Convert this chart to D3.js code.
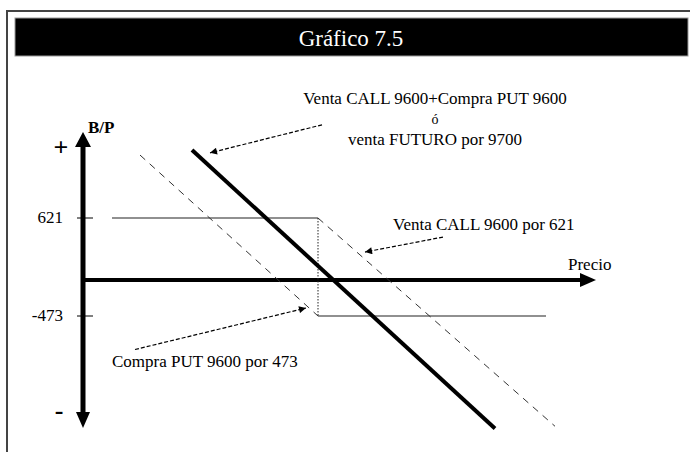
<!DOCTYPE html>
<html>
<head>
<meta charset="utf-8">
<script src="https://cdn.jsdelivr.net/npm/d3@7"></script>
<style>
  body { margin: 0; background: #fff; }
  svg { display: block; font-family: "Liberation Serif", "DejaVu Serif", serif; }
</style>
</head>
<body>
<div id="chart"></div>
<script>
// valores del gráfico (precio, B/P)
const strike = 9600
const yTicks = [621, -473]
const yTickLabels = ["621", "-473"]
const callFlat = [[7540, 621], [9600, 621]]
const callDash = [[9600, 621], [11970, -1900]]
const putDash = [[7820, 1250], [9600, -473]]
const putFlat = [[9600, -473], [11880, -473]]
const futureLine = [[8340, 1300], [11370, -1930]]
const strikeDots = [[9600, 621], [9600, -473]]

// textos
const title = "Gráfico 7.5"
const futureLabel = ["Venta CALL 9600+Compra PUT 9600", "ó", "venta FUTURO por 9700"]
const callLabel = "Venta CALL 9600 por 621"
const putLabel = "Compra PUT 9600 por 473"
const yLabel = "B/P"
const xLabel = "Precio"

// flechas de las notas, en unidades del gráfico [desde, hasta]
const futureArrow = [[9640, 1552], [8520, 1272]]
const callArrow = [[10850, 430], [10070, 280]]
const putArrow = [[7770, -907], [9480, -368]]

const width = 690, height = 452

const x = d3.scaleLinear().domain([7250, 12370]).range([83, 595])
// escala esquemática: el eje no es proporcional a cada lado del cero
const y = d3.scaleLinear().domain([-2000, -473, 0, 621, 2000]).range([434, 316, 280, 218, 80])

const svg = d3.select("#chart").append("svg")
  .attr("width", width)
  .attr("height", height)
  .attr("viewBox", [0, 0, width, height])

const defs = svg.append("defs")
defs.append("marker")
  .attr("id", "head")
  .attr("viewBox", "0 0 10 10")
  .attr("refX", 10).attr("refY", 5)
  .attr("markerWidth", 10).attr("markerHeight", 7)
  .attr("markerUnits", "userSpaceOnUse")
  .attr("orient", "auto")
  .append("path").attr("d", "M0,0L10,5L0,10Z").attr("fill", "#000")

// marco y barra del título
svg.append("rect")
  .attr("x", 7).attr("y", 11)
  .attr("width", 700).attr("height", 460)
  .attr("fill", "#fff").attr("stroke", "#444").attr("stroke-width", 2)
svg.append("rect")
  .attr("x", 15).attr("y", 18)
  .attr("width", 673).attr("height", 38)
  .attr("fill", "#000").attr("stroke", "#999").attr("stroke-width", 1)
svg.append("text")
  .attr("x", 351).attr("y", 46)
  .attr("text-anchor", "middle")
  .attr("fill", "#fff")
  .attr("font-size", 23)
  .text(title)

const line = d3.line().x(d => x(d[0])).y(d => y(d[1]))

// ejes
const x0 = x(7250), y0 = y(0)
svg.append("line")
  .attr("x1", x0).attr("x2", x0)
  .attr("y1", 146).attr("y2", 413)
  .attr("stroke", "#000").attr("stroke-width", 5)
svg.append("path")
  .attr("d", `M${x0},132L${x0 - 8},147L${x0 + 8},147Z`)
svg.append("path")
  .attr("d", `M${x0},428L${x0 - 7},412L${x0 + 7},412Z`)
svg.append("line")
  .attr("x1", x0).attr("x2", 582)
  .attr("y1", y0).attr("y2", y0)
  .attr("stroke", "#000").attr("stroke-width", 4)
svg.append("path")
  .attr("d", `M596,${y0}L580,${y0 - 7}L580,${y0 + 7}Z`)

svg.selectAll(".ytick")
  .data(yTicks)
  .join("line")
  .attr("class", "ytick")
  .attr("x1", x0 - 6).attr("x2", x0 + 10)
  .attr("y1", d => y(d)).attr("y2", d => y(d))
  .attr("stroke", "#000").attr("stroke-width", 1)
svg.selectAll(".ylab")
  .data(yTicks)
  .join("text")
  .attr("class", "ylab")
  .attr("x", 63)
  .attr("y", d => y(d) + 5)
  .attr("text-anchor", "end")
  .attr("font-size", 17)
  .text((d, i) => yTickLabels[i])

svg.append("text").attr("x", 88).attr("y", 133)
  .attr("font-size", 17).attr("font-weight", "bold").text(yLabel)
svg.append("text").attr("x", 61).attr("y", 156)
  .attr("text-anchor", "middle")
  .attr("font-size", 26).attr("font-weight", "bold").text("+")
svg.append("text").attr("x", 59).attr("y", 419)
  .attr("text-anchor", "middle")
  .attr("font-size", 26).attr("font-weight", "bold").text("-")
svg.append("text").attr("x", 568).attr("y", 270)
  .attr("font-size", 17).text(xLabel)

// resultados
svg.append("path").attr("d", line(callFlat))
  .attr("fill", "none").attr("stroke", "#222").attr("stroke-width", 1.2)
svg.append("path").attr("d", line(putFlat))
  .attr("fill", "none").attr("stroke", "#222").attr("stroke-width", 1.2)
svg.append("path").attr("d", line(strikeDots))
  .attr("fill", "none").attr("stroke", "#222").attr("stroke-width", 1)
  .attr("stroke-dasharray", "1.5,1.5")
svg.append("path").attr("d", line(callDash))
  .attr("fill", "none").attr("stroke", "#333").attr("stroke-width", 1)
  .attr("stroke-dasharray", "7,6")
svg.append("path").attr("d", line(putDash))
  .attr("fill", "none").attr("stroke", "#333").attr("stroke-width", 1)
  .attr("stroke-dasharray", "7,6")
svg.append("path").attr("d", line(futureLine))
  .attr("fill", "none").attr("stroke", "#000").attr("stroke-width", 4)

// notas
for (const a of [futureArrow, callArrow, putArrow]) {
  svg.append("path").attr("d", line(a))
    .attr("fill", "none").attr("stroke", "#000").attr("stroke-width", 1.2)
    .attr("stroke-dasharray", "4,2")
    .attr("marker-end", "url(#head)")
}

svg.append("g")
  .attr("text-anchor", "middle")
  .selectAll("text")
  .data(futureLabel)
  .join("text")
  .attr("x", 435)
  .attr("y", (d, i) => [104, 124, 145][i])
  .attr("font-size", (d, i) => i === 1 ? 14 : 17)
  .text(d => d)

svg.append("text").attr("x", 393).attr("y", 230)
  .attr("font-size", 17).text(callLabel)
svg.append("text").attr("x", 112).attr("y", 367)
  .attr("font-size", 17).text(putLabel)
</script>
</body>
</html>
